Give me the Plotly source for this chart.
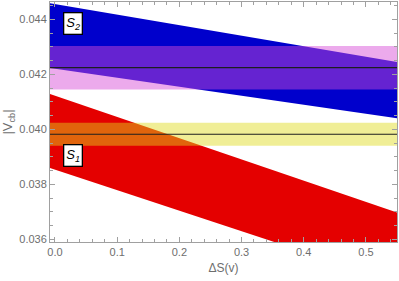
import plotly.graph_objects as go

# x positions where band edges are read
xs = [-0.01, 0.56]
s2_upper = [0.04459, 0.04241]
s2_lower = [0.04224, 0.04037]
s1_upper = [0.04130, 0.03690]
s1_lower = [0.03861, 0.03435]

# horizontal measurement bands (central value, half width)
pink_center, pink_half = 0.04224, 0.00079
yellow_center, yellow_half = 0.03982, 0.00042

x_ticks = [0.0, 0.1, 0.2, 0.3, 0.4, 0.5]
y_ticks = [0.036, 0.038, 0.040, 0.042, 0.044]

fig = go.Figure()

def band(xl, lo, hi, color):
    fig.add_trace(go.Scatter(
        x=list(xl) + list(xl)[::-1], y=list(hi) + list(lo)[::-1],
        fill="toself", fillcolor=color, mode="lines", line=dict(width=0),
        hoverinfo="skip", showlegend=False))

band(xs, s2_lower, s2_upper, "rgb(0,0,204)")
band(xs, s1_lower, s1_upper, "rgb(228,0,0)")
band(xs, [pink_center - pink_half] * 2, [pink_center + pink_half] * 2, "rgba(215,74,215,0.47)")
band(xs, [yellow_center - yellow_half] * 2, [yellow_center + yellow_half] * 2, "rgba(222,217,26,0.46)")

for c in (pink_center, yellow_center):
    fig.add_trace(go.Scatter(x=xs, y=[c, c], mode="lines",
                             line=dict(color="rgb(30,30,30)", width=1.2),
                             hoverinfo="skip", showlegend=False))

for txt, ya in (("S<sub>2</sub>", 0.04386), ("S<sub>1</sub>", 0.03903)):
    fig.add_annotation(x=0.0295, y=ya, text="<i>" + txt + "</i>", showarrow=False,
                       font=dict(family="Liberation Sans", size=13, color="black"),
                       bgcolor="white", bordercolor="black", borderwidth=1.3, borderpad=2)

axis_common = dict(showgrid=False, zeroline=False, showline=True, mirror="ticks",
                   linecolor="rgb(160,160,160)", linewidth=1, ticks="inside",
                   ticklen=5, tickcolor="rgb(160,160,160)", automargin=False,
                   tickfont=dict(family="Liberation Sans", size=11, color="rgb(110,110,110)"))

fig.update_xaxes(range=[-0.008, 0.55], tickvals=x_ticks,
                 ticktext=[f"{v:.1f}" for v in x_ticks],
                 minor=dict(dtick=0.02, ticks="inside", ticklen=3, tickcolor="rgb(160,160,160)"),
                 title=dict(text="ΔS(v)", font=dict(family="Liberation Sans", size=12, color="rgb(110,110,110)"), standoff=6),
                 **axis_common)
fig.update_yaxes(range=[0.0359, 0.04463], tickvals=y_ticks,
                 ticktext=[f"{v:.3f}" for v in y_ticks],
                 minor=dict(dtick=0.0005, ticks="inside", ticklen=3, tickcolor="rgb(160,160,160)"),
                 title=dict(text="|V<sub>cb</sub>|", font=dict(family="Liberation Sans", size=13, color="rgb(110,110,110)"), standoff=4),
                 **axis_common)

fig.update_layout(width=399, height=281, margin=dict(l=50, r=2, t=2, b=39),
                  plot_bgcolor="white", paper_bgcolor="white")
fig.write_html("out.html", config={"displayModeBar": False},
               post_script="document.body.style.margin='0';document.body.style.overflow='hidden';")
